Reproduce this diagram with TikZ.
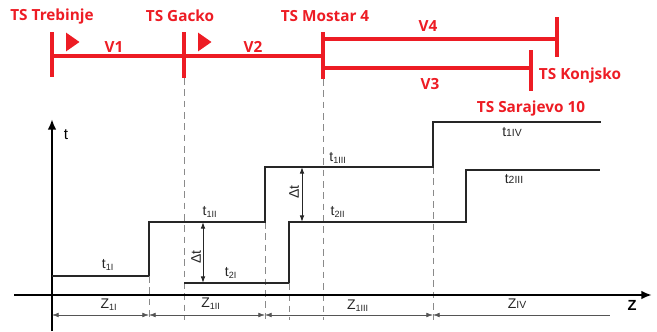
\documentclass[tikz,border=0pt]{standalone}
\usepackage{fontspec}
\setmainfont{Liberation Sans}
\newfontfamily\stationfont{Open Sans}
\usetikzlibrary{arrows.meta,calc,shapes.geometric}
\definecolor{TSred}{HTML}{ED1C24}
\definecolor{DGink}{HTML}{262626}
\definecolor{DGdim}{HTML}{555555}
\definecolor{DGdash}{HTML}{8A8A8A}
\tikzset{
  stationlbl/.style={font=\stationfont\bfseries\fontsize{11.5}{12}\selectfont, text=TSred, inner sep=0pt},
  seclbl/.style={font=\stationfont\bfseries\fontsize{11.5}{12}\selectfont, text=TSred, inner sep=0pt},
  redline/.style={draw=TSred, line width=3pt},
  dirmark/.style={isosceles triangle, isosceles triangle apex angle=70, fill=TSred, inner sep=0pt, minimum height=10pt, minimum width=11pt},
  axisline/.style={draw=black, line width=2.2pt, -{Latex[length=8pt,width=6.5pt]}},
  stepline/.style={draw=DGink, line width=1.8pt},
  steplow/.style={draw=DGink, line width=1.1pt},
  guide/.style={draw=DGdash, line width=0.6pt, dash pattern=on 5pt off 3.5pt},
  dimarr/.style={draw=DGdim, line width=0.5pt, {Latex[length=5pt,width=3.5pt]}-{Latex[length=5pt,width=3.5pt]}},
  dimend/.style={draw=DGdim, line width=0.5pt, {Latex[length=5pt,width=3.5pt]}-},
  deltaarr/.style={draw=DGink, line width=0.7pt, {Latex[length=5pt,width=3.5pt]}-{Latex[length=5pt,width=3.5pt]}},
  vallbl/.style={font=\fontsize{10.5}{11}\selectfont, text=DGink, inner sep=0pt},
  axlbl/.style={font=\bfseries\fontsize{11}{12}\selectfont, text=black, inner sep=0pt}
}
\newcommand{\sbs}[1]{\textsubscript{\fontsize{6.8}{7}\selectfont #1}}
\newcommand{\sbi}[1]{{\fontsize{7.8}{8}\selectfont #1}}

\begin{document}
\begin{tikzpicture}[x=0.75pt,y=-0.75pt]
\useasboundingbox (0,0) rectangle (657,332);

% route of the line
\coordinate (trb) at (52,56);
\coordinate (gck) at (184,56);
\coordinate (mos) at (323,56);
\coordinate (v4e) at (557,39);
\coordinate (v3e) at (531,68);

\draw[redline] (trb) -- (mos);
\draw[redline] (mos |- v4e) -- (v4e);
\draw[redline] (mos |- v3e) -- (v3e);
\draw[redline] ($(trb)+(0,-24)$) -- ($(trb)+(0,21)$);
\draw[redline] ($(gck)+(0,-24)$) -- ($(gck)+(0,22)$);
\draw[redline] ($(mos)+(0,-24)$) -- ($(mos)+(0,23)$);
\draw[redline] ($(v4e)+(0,-22)$) -- ($(v4e)+(0,18)$);
\draw[redline] ($(v3e)+(0,-18)$) -- ($(v3e)+(0,23)$);

\node[dirmark] (dir1) at (71,42) {};
\node[dirmark] (dir2) at (203,42) {};

\node[stationlbl] (trebinje) at (52,17) {TS Trebinje};
\node[stationlbl] (gacko) at (180,16) {TS Gacko};
\node[stationlbl] (mostar) at (325,16) {TS Mostar 4};
\node[stationlbl] (konjsko) at (580,76) {TS Konjsko};
\node[stationlbl] (sarajevo) at (531,109) {TS Sarajevo 10};
\node[seclbl] (v1) at (114,47) {V1};
\node[seclbl] (v2) at (253,47) {V2};
\node[seclbl] (v4) at (428,26) {V4};
\node[seclbl] (v3) at (430,84) {V3};

% guide lines
\draw[guide] (149,276) -- (149,320);
\draw[guide] ($(gck)+(0,22)$) -- (184,320);
\draw[guide] (265,222) -- (265,320);
\draw[guide] (289,283) -- (289,320);
\draw[guide] ($(mos)+(0,23)$) -- (323,320);
\draw[guide] (433,167) -- (433,320);

% axes
\coordinate (yBot) at (52,331);
\coordinate (yTop) at (52,119);
\coordinate (xLeft) at (14,295);
\coordinate (xRight) at (652,295);
\draw[axisline] (yBot) -- (yTop);
\draw[axisline] (xLeft) -- (xRight);
\node[axlbl, font=\fontsize{11.5}{12}\selectfont] (tAx) at (66,135) {t};
\node[axlbl] (zAx) at (632,305) {Z};

% time steps
\draw[steplow] (52,276) -- (149,276);
\draw[stepline] (149,276) -- (149,222) -- (265,222) -- (265,167) -- (433,167) -- (433,122) -- (601,122);
\draw[steplow] (184,283) -- (289,283);
\draw[stepline] (289,283) -- (289,222) -- (466,222) -- (466,170) -- (600,170);

\node[vallbl] (t1I) at (108,265) {t\sbs{1I}};
\node[vallbl] (t1II) at (210,212) {t\sbs{1II}};
\node[vallbl] (t2I) at (231,273) {t\sbs{2I}};
\node[vallbl] (t1III) at (338,158) {t\sbs{1III}};
\node[vallbl] (t2II) at (338,212) {t\sbs{2II}};
\node[vallbl] (t1IV) at (512,132) {t\sbi{1IV}};
\node[vallbl] (t2III) at (514,179) {t\sbi{2III}};

% delta t
\coordinate (dA1) at (203,222);
\coordinate (dA2) at (203,283);
\coordinate (dB1) at (302,167);
\coordinate (dB2) at (302,222);
\draw[deltaarr] (dA1) -- (dA2);
\draw[deltaarr] (dB1) -- (dB2);
\node[vallbl, rotate=90] (dtA) at (196,257) {Δt};
\node[vallbl, rotate=90] (dtB) at (294,192) {Δt};

% zones
\coordinate (d0) at (52,315);
\coordinate (d1) at (149,315);
\coordinate (d2) at (265,315);
\coordinate (d3) at (433,315);
\coordinate (d4) at (610,315);
\draw[dimarr] (d0) -- (d1);
\draw[dimarr] (d1) -- (d2);
\draw[dimarr] (d2) -- (d3);
\draw[dimend] (d3) -- (d4);
\node[vallbl] (z1I) at (109,305) {Z\sbs{1I}};
\node[vallbl] (z1II) at (211,304) {Z\sbs{1II}};
\node[vallbl] (z1III) at (358,306) {Z\sbs{1III}};
\node[vallbl] (zIV) at (517,304) {Z\sbi{IV}};
\end{tikzpicture}
\end{document}
